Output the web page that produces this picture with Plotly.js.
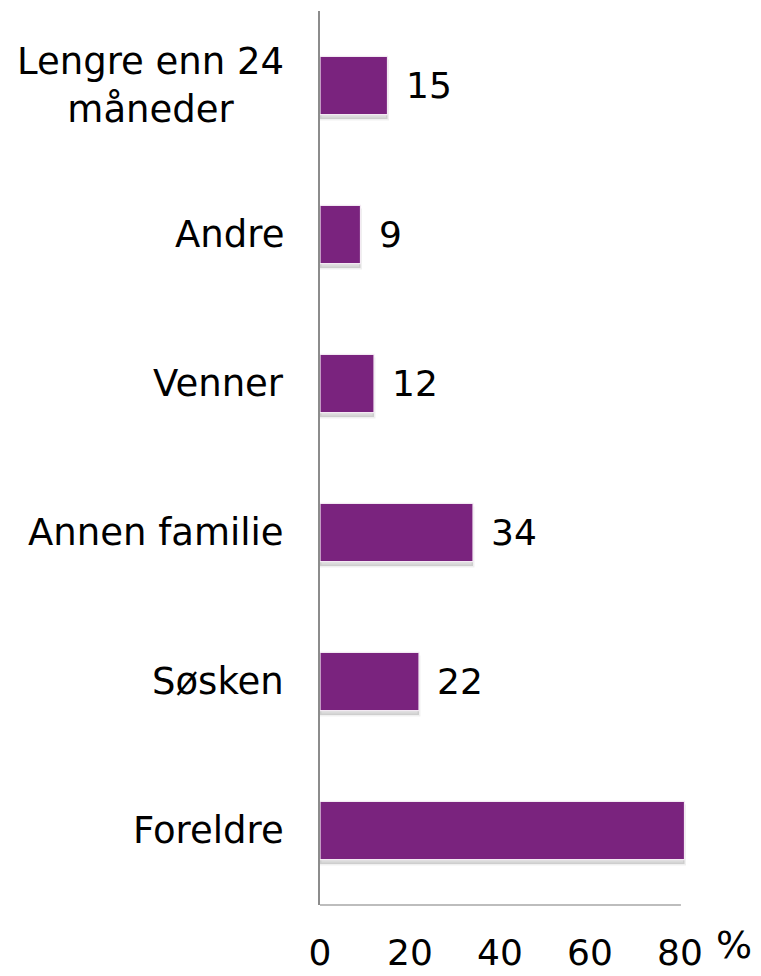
<!DOCTYPE html>
<html>
<head>
<meta charset="utf-8">
<script src="https://cdn.plot.ly/plotly-3.0.1.min.js"></script>
<style>html,body{margin:0;padding:0;background:#fff;}#chart{width:761px;height:976px;}</style>
</head>
<body>
<div id="chart"></div>
<script>
const categories = ["Foreldre", "Søsken", "Annen familie", "Venner", "Andre", "Lengre enn 24<br>måneder"];
const values = [81, 22, 34, 12, 9, 15];
const valueLabels = ["", "22", "34", "12", "9", "15"];
const tickValues = [0, 20, 40, 60, 80];
const tickLabels = ["0", "20", "40", "60", "80"];
const unitLabel = "%";

const FONT = "DejaVu Sans, Verdana, sans-serif";
const barColor = "#7a237e";

const shadow = {
  type: "bar", orientation: "h", y: categories, x: values,
  width: 0.39, offset: -0.225,
  marker: {color: "rgba(0,0,0,0.14)", line: {color: "rgba(0,0,0,0.06)", width: 3}},
  hoverinfo: "skip", showlegend: false
};
const bars = {
  type: "bar", orientation: "h", y: categories, x: values,
  width: 0.39, offset: -0.195,
  marker: {color: barColor, line: {color: "#f3e9f3", width: 1.2}},
  hoverinfo: "skip", showlegend: false
};

const annotations = [];
categories.forEach((c, i) => {
  annotations.push({
    xref: "paper", yref: "y", x: 0, y: c, xanchor: "right", yanchor: "middle",
    xshift: -34, text: c, showarrow: false, align: "center",
    font: {family: FONT, size: 37, color: "#000"}
  });
  if (valueLabels[i]) {
    annotations.push({
      xref: "x", yref: "y", x: values[i], y: c, xanchor: "left", yanchor: "middle",
      xshift: 16, text: valueLabels[i], showarrow: false,
      font: {family: FONT, size: 36, color: "#000"}
    });
  }
});
annotations.push({
  xref: "paper", yref: "paper", x: 1, y: 0, xanchor: "left", yanchor: "middle",
  xshift: 25, yshift: -40, text: unitLabel, showarrow: false,
  font: {family: FONT, size: 38, color: "#000"}
});

const layout = {
  width: 761, height: 976,
  margin: {l: 320, r: 72, t: 11, b: 71},
  paper_bgcolor: "#fff", plot_bgcolor: "#fff",
  barmode: "overlay",
  xaxis: {
    range: [0, 82], tickvals: tickValues, ticktext: tickLabels,
    showgrid: false, zeroline: false, showline: false, ticks: "",
    ticklabelstandoff: 23,
    tickfont: {family: FONT, size: 36, color: "#000"}, fixedrange: true
  },
  yaxis: {
    type: "category", categoryarray: categories, categoryorder: "array",
    range: [-0.5, 5.5], showticklabels: false, showgrid: false, zeroline: false,
    showline: true, linecolor: "#8c8c8c", linewidth: 2, ticks: "", fixedrange: true
  },
  shapes: [{
    type: "line", xref: "x", yref: "paper", x0: 0, x1: 80.2, y0: 0, y1: 0,
    line: {color: "#bdbdbd", width: 2}
  }],
  annotations: annotations
};

Plotly.newPlot("chart", [shadow, bars], layout, {displayModeBar: false, staticPlot: true});
</script>
</body>
</html>
